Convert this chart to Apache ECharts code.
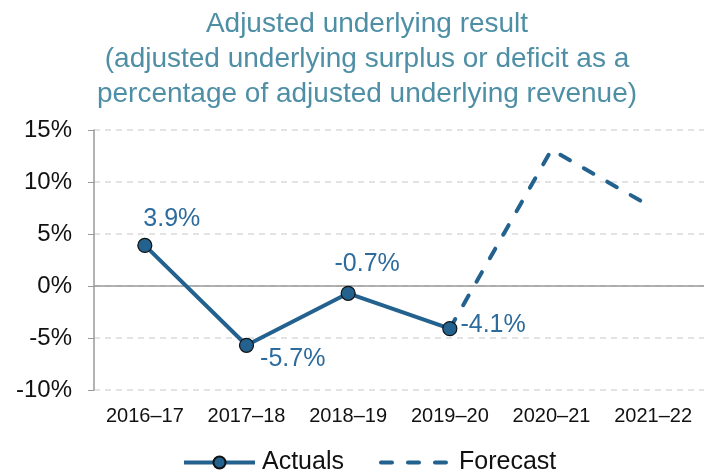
<!DOCTYPE html>
<html>
<head>
<meta charset="utf-8">
<title>Adjusted underlying result</title>
<script src="https://cdn.jsdelivr.net/npm/echarts@6/dist/echarts.min.js"></script>
<style>
  html, body { margin: 0; padding: 0; background: #fff; overflow: hidden; }
  #main { width: 704px; height: 476px; }
</style>
</head>
<body>
<div id="main"></div>
<script>
// data
var years = ['2016\u201317', '2017\u201318', '2018\u201319', '2019\u201320', '2020\u201321', '2021\u201322'];
var actuals = [3.9, -5.7, -0.7, -4.1, null, null];
var forecast = [null, null, null, -4.1, 13.1, 7.5];
var yTicks = { min: -10, max: 15, step: 5 };

var blue = '#23618e';
var labelBlue = '#2c6b9d';
var font = 'Liberation Sans';

// where each actual label sits relative to its point
var labelPlace = [
    { position: 'top', distance: 6, offset: [27, 0] },
    { position: 'right', distance: 6, offset: [0, 14] },
    { position: 'top', distance: 9, offset: [19, 0] },
    { position: 'right', distance: 3, offset: [0, -4] }
];

var actualData = actuals.map(function (v, i) {
    if (v === null) return null;
    return { value: v, label: labelPlace[i] };
});

var chart = echarts.init(document.getElementById('main'));
var option = {
    animation: false,
    title: {
        text: 'Adjusted underlying result\n(adjusted underlying surplus or deficit as a\npercentage of adjusted underlying revenue)',
        left: 362,
        textAlign: 'center',
        top: 2,
        textStyle: {
            color: '#4e8fa6',
            fontFamily: font,
            fontWeight: 'normal',
            fontSize: 28,
            lineHeight: 35
        }
    },
    grid: { left: 94, right: -4, top: 130, bottom: 86 },
    legend: {
        top: 445,
        left: 177,
        itemWidth: 71,
        itemHeight: 15,
        itemGap: 35,
        lineStyle: { width: 4 },
        textStyle: { fontFamily: font, fontSize: 25, color: '#111', padding: [0, 0, 0, 2] },
        data: ['Actuals', { name: 'Forecast', itemStyle: { opacity: 0 } }]
    },
    xAxis: [{
        type: 'category',
        data: years,
        position: 'bottom',
        axisLine: { show: false, onZero: false },
        axisTick: { show: false },
        axisLabel: { fontFamily: font, fontSize: 20, color: '#111', margin: 16 }
    }, {
        type: 'category',
        data: years,
        position: 'bottom',
        axisLine: { onZero: true, lineStyle: { color: '#999', width: 1.5 } },
        axisTick: { alignWithLabel: true, length: 6, lineStyle: { color: '#999' } },
        axisLabel: { show: false }
    }],
    yAxis: {
        type: 'value',
        min: yTicks.min,
        max: yTicks.max,
        interval: yTicks.step,
        axisLine: { show: true, lineStyle: { color: '#999', width: 1.5 } },
        axisTick: { show: true, length: 6, lineStyle: { color: '#999' } },
        axisLabel: {
            formatter: '{value}%',
            fontFamily: font,
            fontSize: 24,
            color: '#111',
            margin: 22
        },
        splitLine: { lineStyle: { color: '#dadada', type: [6, 5], width: 1.5 } }
    },
    series: [{
        name: 'Forecast',
        type: 'line',
        xAxisIndex: 0,
        data: forecast,
        showSymbol: false,
        symbol: 'none',
        lineStyle: { color: blue, width: 4, type: [11, 16], cap: 'round' },
        itemStyle: { color: blue },
        z: 2
    }, {
        name: 'Actuals',
        type: 'line',
        xAxisIndex: 0,
        data: actualData,
        symbol: 'circle',
        symbolSize: 14,
        lineStyle: { color: blue, width: 4 },
        itemStyle: { color: blue, borderColor: '#111', borderWidth: 1.2 },
        label: {
            show: true,
            formatter: function (p) { return p.value.toFixed(1) + '%'; },
            fontFamily: font,
            fontSize: 25,
            color: labelBlue
        },
        z: 3
    }]
};
chart.setOption(option);
</script>
</body>
</html>
